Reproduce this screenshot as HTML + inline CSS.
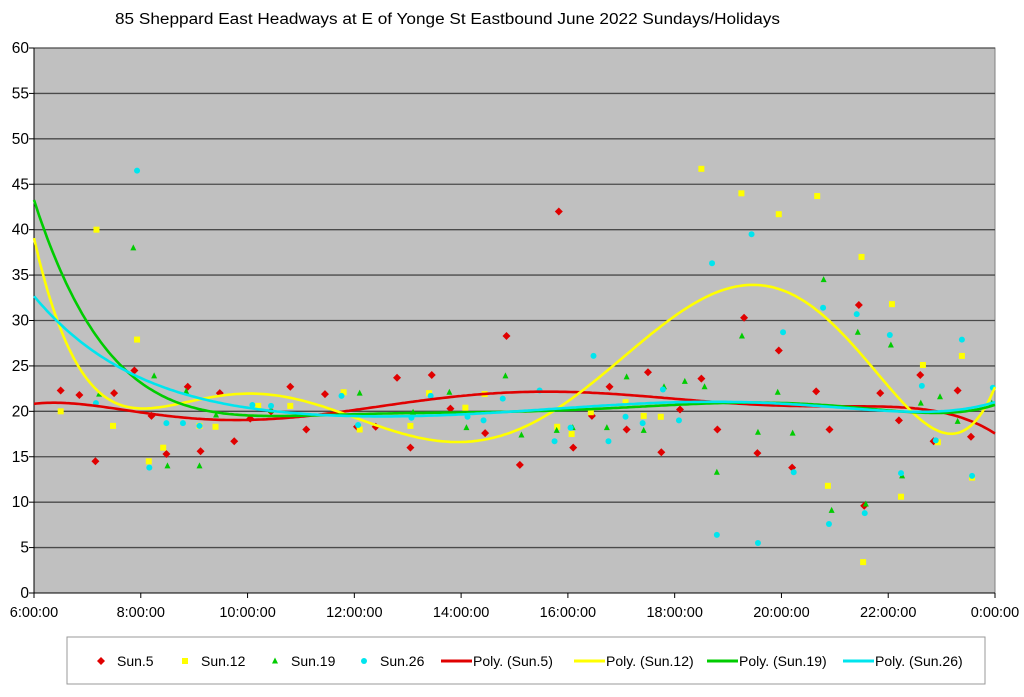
<!DOCTYPE html>
<html><head><meta charset="utf-8"><style>
html,body{margin:0;padding:0;background:#fff;}
svg{display:block;font-family:"Liberation Sans",sans-serif;}
</style></head><body>
<svg id="chart" width="1024" height="697" viewBox="0 0 1024 697">
<text x="115" y="24" font-size="15.5" textLength="665" lengthAdjust="spacingAndGlyphs" fill="#000">85 Sheppard East Headways at E of Yonge St Eastbound June 2022  Sundays/Holidays</text>
<g id="plot"></g>
<g id="legend">
<rect x="67" y="637" width="918" height="47" fill="#fff" stroke="#999"/>
</g>
</svg>
<script>
const yTicks=[0,5,10,15,20,25,30,35,40,45,50,55,60];
const xTickHours=[6,8,10,12,14,16,18,20,22,24];
const xTickLabels=["6:00:00","8:00:00","10:00:00","12:00:00","14:00:00","16:00:00","18:00:00","20:00:00","22:00:00","0:00:00"];
const seriesNames=["Sun.5","Sun.12","Sun.19","Sun.26"];
const seriesColors=["#e00000","#ffff00","#00cc00","#00e5ee"];
const sun5=[[6.5,22.3],[6.85,21.8],[7.15,14.5],[7.5,22.0],[7.88,24.5],[8.2,19.5],[8.48,15.3],[8.88,22.7],[9.12,15.6],[9.48,22.0],[9.75,16.7],[10.05,19.2],[10.44,20.0],[10.8,22.7],[11.1,18.0],[11.45,21.9],[12.05,18.3],[12.4,18.3],[12.8,23.7],[13.05,16.0],[13.45,24.0],[13.8,20.3],[14.45,17.6],[14.85,28.3],[15.1,14.1],[15.83,42.0],[16.1,16.0],[16.45,19.5],[16.78,22.7],[17.1,18.0],[17.5,24.3],[17.75,15.5],[18.1,20.2],[18.5,23.6],[18.8,18.0],[19.3,30.3],[19.55,15.4],[19.95,26.7],[20.2,13.8],[20.65,22.2],[20.9,18.0],[21.45,31.7],[21.55,9.6],[21.85,22.0],[22.2,19.0],[22.6,24.0],[22.85,16.7],[23.3,22.3],[23.55,17.2]];
const sun12=[[6.5,20.0],[7.17,40.0],[7.48,18.4],[7.93,27.9],[8.15,14.5],[8.42,16.0],[9.1,18.4],[9.4,18.3],[10.2,20.6],[10.8,20.6],[11.8,22.1],[12.1,18.0],[13.05,18.4],[13.4,22.0],[14.08,20.4],[14.44,21.9],[15.8,18.3],[16.07,17.5],[16.43,19.9],[17.08,21.0],[17.42,19.5],[17.74,19.4],[18.5,46.7],[19.25,44.0],[19.95,41.7],[20.67,43.7],[20.87,11.8],[21.5,37.0],[21.53,3.4],[22.07,31.8],[22.24,10.6],[22.65,25.1],[22.93,16.6],[23.38,26.1],[23.57,12.7]];
const sun19=[[7.22,21.9],[7.86,38.0],[8.25,23.9],[8.5,14.0],[8.85,22.2],[9.1,14.0],[9.41,19.6],[10.44,20.1],[12.1,22.0],[13.1,19.9],[13.78,22.1],[14.1,18.2],[14.83,23.9],[15.13,17.4],[15.79,17.9],[16.09,18.2],[16.73,18.2],[17.1,23.8],[17.42,17.9],[17.8,22.7],[18.19,23.3],[18.56,22.7],[18.79,13.3],[19.26,28.3],[19.56,17.7],[19.93,22.1],[20.21,17.6],[20.79,34.5],[20.94,9.1],[21.43,28.7],[21.58,9.8],[22.05,27.3],[22.26,12.9],[22.61,20.9],[22.97,21.6],[23.3,18.9],[23.94,20.9]];
const sun26=[[7.16,20.9],[7.93,46.5],[8.16,13.8],[8.48,18.7],[8.79,18.7],[9.1,18.4],[10.09,20.7],[10.44,20.6],[11.76,21.7],[12.07,18.5],[13.07,19.3],[13.43,21.7],[14.12,19.4],[14.42,19.0],[14.78,21.4],[15.47,22.3],[15.75,16.7],[16.05,18.2],[16.48,26.1],[16.76,16.7],[17.08,19.4],[17.4,18.7],[17.78,22.4],[18.08,19.0],[18.7,36.3],[18.79,6.4],[19.44,39.5],[19.56,5.5],[20.03,28.7],[20.23,13.3],[20.78,31.4],[20.89,7.6],[21.41,30.7],[21.56,8.8],[22.03,28.4],[22.24,13.2],[22.63,22.8],[22.89,16.8],[23.38,27.9],[23.57,12.9],[23.96,22.6]];
const allSeries=[sun5,sun12,sun19,sun26];

const NS="http://www.w3.org/2000/svg";
const L=34,R=995,T=48,B=593;
function xs(h){return L+(h-6)/18*(R-L);}
function ys(v){return B-v/60*(B-T);}
function mk(tag,attrs,parent){const e=document.createElementNS(NS,tag);for(const k in attrs)e.setAttribute(k,attrs[k]);parent.appendChild(e);return e;}
const plot=document.getElementById('plot');
const bg=mk('rect',{x:L,y:T,width:R-L,height:B-T,fill:'#c0c0c0',stroke:'#808080'},plot);


yTicks.forEach(v=>{
  if(v>0){const g=mk('line',{x1:L,x2:R,y1:ys(v),y2:ys(v),stroke:'#4a4a4a','stroke-width':1.3},plot);
  
  }
  mk('line',{x1:L-5,x2:L,y1:ys(v),y2:ys(v),stroke:'#000'},plot);
  const t=mk('text',{x:L-5,y:ys(v)+5,'text-anchor':'end','font-size':15.5},plot);t.textContent=v;
  
  
});
mk('line',{x1:L,x2:L,y1:T,y2:B,stroke:'#000'},plot);
mk('line',{x1:L,x2:R,y1:B,y2:B,stroke:'#000'},plot);
xTickHours.forEach((h,i)=>{
  mk('line',{x1:xs(h),x2:xs(h),y1:B,y2:B+5,stroke:'#000'},plot);
  const t=mk('text',{x:xs(h),y:B+24,'text-anchor':'middle','font-size':14.5},plot);t.textContent=xTickLabels[i];
  
  
});
function marker(kind,x,y,c,parent){
  if(kind===0)return mk('polygon',{points:`${x},${y-4} ${x+4},${y} ${x},${y+4} ${x-4},${y}`,fill:c},parent);
  if(kind===1)return mk('rect',{x:x-3,y:y-3,width:6,height:6,fill:c},parent);
  if(kind===2)return mk('polygon',{points:`${x},${y-3.5} ${x+3},${y+2.5} ${x-3},${y+2.5}`,fill:c},parent);
  return mk('circle',{cx:x,cy:y,r:3,fill:c},parent);
}
allSeries.forEach((s,k)=>{
  s.forEach(p=>{const m=marker(k,xs(p[0]),ys(p[1]),seriesColors[k],plot);
  
  });
});
function polyfit(pts,deg){
  const n=deg+1,A=[];for(let i=0;i<n;i++){A.push(new Array(n+1).fill(0));}
  pts.forEach(p=>{const t=(p[0]-15)/9;const pw=[];for(let i=0;i<2*n;i++)pw.push(Math.pow(t,i));
    for(let i=0;i<n;i++){for(let j=0;j<n;j++)A[i][j]+=pw[i+j];A[i][n]+=pw[i]*p[1];}});
  for(let i=0;i<n;i++){let mx=i;for(let r=i+1;r<n;r++)if(Math.abs(A[r][i])>Math.abs(A[mx][i]))mx=r;[A[i],A[mx]]=[A[mx],A[i]];
    for(let r=0;r<n;r++){if(r===i)continue;const f=A[r][i]/A[i][i];for(let c=i;c<=n;c++)A[r][c]-=f*A[i][c];}}
  return A.map((row,i)=>row[n]/row[i]);
}
allSeries.forEach((s,k)=>{
  const c=polyfit(s,6);let d='';
  for(let h=6;h<=24.001;h+=0.05){const t=(h-15)/9;let v=0;for(let i=0;i<c.length;i++)v+=c[i]*Math.pow(t,i);
    d+=(d?'L':'M')+xs(h).toFixed(1)+','+ys(v).toFixed(1);}
  const p=mk('path',{d:d,fill:'none',stroke:seriesColors[k],'stroke-width':2.6},plot);
  
  
});
const lg=document.getElementById('legend');
const mx=[101,185,275,364];
mx.forEach((x,k)=>{
  const m=marker(k,x,661,seriesColors[k],lg);
  
  
  const t=mk('text',{x:x+16,y:666,'font-size':14},lg);t.textContent=seriesNames[k];
  
  
});
const lx=[441,574,707,843];
lx.forEach((x,k)=>{
  mk('line',{x1:x,x2:x+31,y1:661,y2:661,stroke:seriesColors[k],'stroke-width':3},lg);
  const t=mk('text',{x:x+32,y:666,'font-size':14},lg);t.textContent='Poly. ('+seriesNames[k]+')';
  
  
});
</script>
</body></html>
